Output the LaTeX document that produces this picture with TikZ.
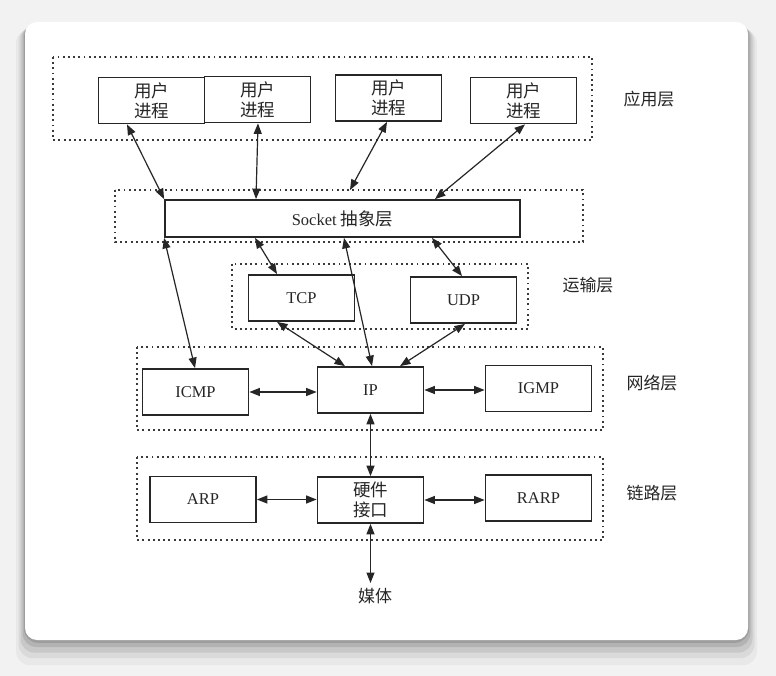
\documentclass[tikz,border=0pt]{standalone}
\usepackage{fontspec}
\setmainfont{Liberation Serif}
\newfontfamily\cjk{Noto Sans CJK SC}[Scale=1.06]
\usetikzlibrary{arrows.meta}
\definecolor{ink}{HTML}{262626}
\definecolor{dotc}{HTML}{3A3A3A}
\definecolor{bgc}{HTML}{F2F2F2}
\tikzset{
  x=1pt, y=-1pt,
  proc/.style={draw=ink, line width=1.8pt, fill=white, minimum width=106pt, minimum height=46pt, inner sep=0pt, align=center, text=ink, font=\fontsize{16.5}{20}\selectfont},
  layerframe/.style={draw=dotc, line width=1.9pt, dash pattern=on 1.9pt off 3.3pt},
  lbl/.style={font=\cjk\fontsize{16}{20}\selectfont, inner sep=0pt, text=ink},
  link/.style={draw=ink, line width=1.2pt, {Triangle[length=10.5pt,width=8pt]}-{Triangle[length=10.5pt,width=8pt]}},
}
\begin{document}
\begin{tikzpicture}
\useasboundingbox (0,0) rectangle (776,676);
% background and card
\fill[bgc] (0,0) rectangle (776,676);
\foreach \d/\o in {18/0.04,13/0.06,9/0.08,5/0.10,2/0.12}{
  \fill[black, opacity=\o, rounded corners=14pt] (25-\d*0.5,22+\d*0.4) rectangle (748+\d*0.5,640+\d*1.4);
}
\fill[white, rounded corners=12pt] (25,22) rectangle (748,640);

% layer frames
\path[layerframe] (53,57) rectangle (592,140);
\path[layerframe] (115,190) rectangle (583,242);
\path[layerframe] (232,264) rectangle (528,329);
\path[layerframe] (137,347) rectangle (603,430);
\path[layerframe] (137,457) rectangle (603,540);
\coordinate (sockframetop) at (350,190);

% nodes
\node[proc] (up1) at (151.5,100.5) {\cjk 用户\\\cjk 进程};
\node[proc] (up2) at (257.5,99.5) {\cjk 用户\\\cjk 进程};
\node[proc] (up3) at (388.5,98) {\cjk 用户\\\cjk 进程};
\node[proc] (up4) at (523.5,100.5) {\cjk 用户\\\cjk 进程};
\node[proc, minimum width=355pt, minimum height=37pt] (sock) at (342.5,218.5) {Socket {\cjk 抽象层}};
\node[proc] (tcp) at (301.5,298) {TCP};
\node[proc] (udp) at (463.5,300) {UDP};
\node[proc] (icmp) at (195.5,392) {ICMP};
\node[proc] (ip) at (370.5,390) {IP};
\node[proc] (igmp) at (538.5,388.5) {IGMP};
\node[proc] (arp) at (203,499.5) {ARP};
\node[proc] (hw) at (370.5,500) {\cjk 硬件\\\cjk 接口};
\node[proc] (rarp) at (538.5,498) {RARP};
\node[lbl] (media) at (375,596) {媒体};

\node[lbl] (l1) at (649,99) {应用层};
\node[lbl] (l2) at (588,285) {运输层};
\node[lbl] (l3) at (652,383) {网络层};
\node[lbl] (l4) at (652,493) {链路层};

% connectors
\draw[link] ([xshift=-24.5pt]up1.south) -- (sock.north west);
\draw[link] ([xshift=0.5pt]up2.south) -- ([xshift=-86.5pt]sock.north);
\draw[link] ([xshift=-1.5pt]up3.south) -- (sockframetop);
\draw[link] ([xshift=1.5pt]up4.south) -- ([xshift=92.5pt]sock.north);
\draw[link] ([xshift=-87.5pt]sock.south) -- ([xshift=-24.5pt]tcp.north);
\draw[link] ([xshift=1.5pt]sock.south) -- ([xshift=1.5pt]ip.north);
\draw[link] ([xshift=89.5pt]sock.south) -- ([xshift=-1.5pt]udp.north);
\draw[link] (sock.south west) -- ([xshift=-0.5pt]icmp.north);
\draw[link] ([xshift=-24.5pt]tcp.south) -- ([xshift=-25.5pt]ip.north);
\draw[link] ([xshift=1.5pt]udp.south) -- ([xshift=29.5pt]ip.north);
\draw[link] (icmp.east) -- (icmp.east -| ip.west);
\draw[link] (ip.east) -- (ip.east -| igmp.west);
\draw[link] (ip.south) -- (hw.north);
\draw[link] (arp.east) -- (arp.east -| hw.west);
\draw[link] (hw.east) -- (hw.east -| rarp.west);
\draw[link] (hw.south) -- ([yshift=5pt]hw.south |- media.north);
\end{tikzpicture}
\end{document}
